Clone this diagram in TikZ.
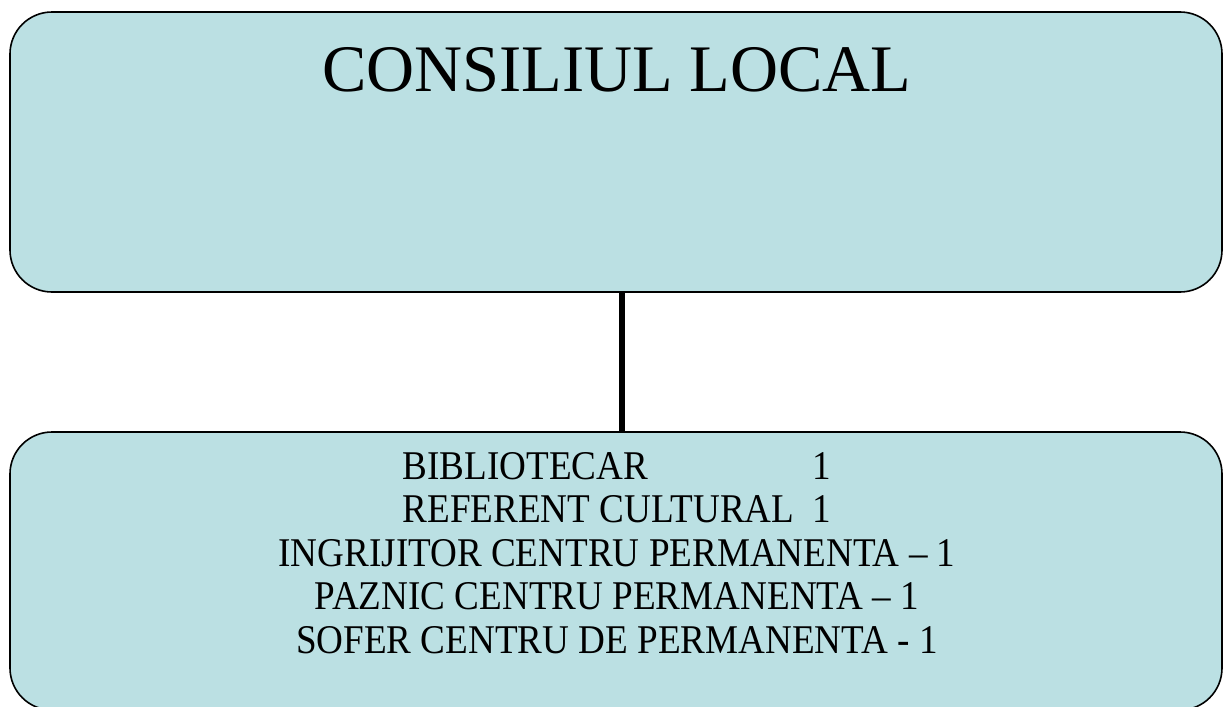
\documentclass[tikz,border=0pt]{standalone}
\usepackage{fontspec}
\setmainfont{Liberation Serif}
\newfontfamily\condfont[FakeStretch=0.91,Ligatures=TeX]{Liberation Serif}
\definecolor{boxfill}{HTML}{BBE0E3}
\begin{document}
\begin{tikzpicture}[x=1pt,y=-1pt,
  orgbox/.style={draw=black,line width=1.6pt,fill=boxfill,rounded corners=42pt},
  link/.style={line width=6pt,draw=black}]
\useasboundingbox (0,0) rectangle (1224,707);
\begin{scope}
\clip (0,0) rectangle (1224,707);
\draw[orgbox] (10,12) rectangle (1222,292);
\draw[orgbox] (10,432) rectangle (1222,710);
\end{scope}
\node[inner sep=0pt] (top) at (617,70) {\fontsize{66.5}{70}\selectfont CONSILIUL LOCAL};
\coordinate (topb) at (622,292);
\coordinate (botb) at (622,432);
\draw[link] (topb) -- (botb);
\node[inner sep=0pt,align=center,font=\condfont\fontsize{40.8}{43.6}\selectfont] (staff) at (617,553) {%
{\setbox0\hbox{REFERENT CULTURAL\ \ 1}\hbox to\wd0{BIBLIOTECAR\hfill 1}}\\
REFERENT CULTURAL\ \ 1\\
INGRIJITOR CENTRU PERMANENTA – 1\\
PAZNIC CENTRU PERMANENTA – 1\\
SOFER CENTRU DE PERMANENTA - 1};
\end{tikzpicture}
\end{document}
